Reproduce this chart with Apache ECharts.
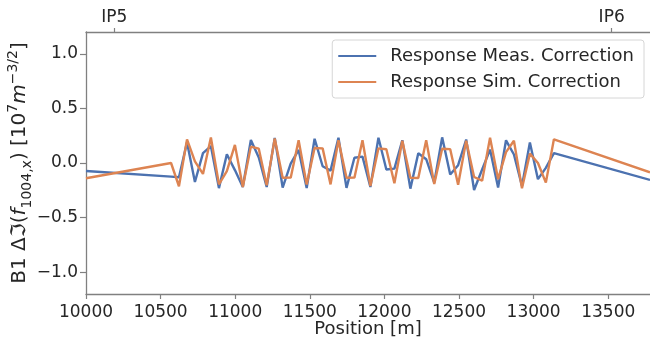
<!DOCTYPE html>
<html>
<head>
<meta charset="utf-8">
<script src="https://cdn.jsdelivr.net/npm/echarts@6/dist/echarts.min.js"></script>
<style>html,body{margin:0;padding:0;background:#fff}#c{width:650px;height:340px}</style>
</head>
<body>
<div id="c"></div>
<script>
const positions = [10000, 10570, 10623, 10677, 10730, 10784, 10837, 10891, 10944, 10998, 11051,
  11105, 11158, 11211, 11265, 11318, 11372, 11425, 11479, 11532, 11586,
  11639, 11692, 11746, 11799, 11853, 11906, 11960, 12013, 12067, 12120,
  12174, 12227, 12280, 12334, 12387, 12441, 12494, 12548, 12601, 12655,
  12708, 12762, 12815, 12868, 12922, 12975, 13029, 13082, 13136, 13780];
const measCorrection = [-0.073, -0.125, -0.13, 0.19, -0.174, 0.09, 0.155, -0.23, 0.08, -0.065, -0.22,
  0.21, 0.05, -0.22, 0.23, -0.225, -0.005, 0.12, -0.23, 0.222, -0.03,
  -0.07, 0.232, -0.228, 0.048, 0.058, -0.22, 0.232, -0.06, -0.052, 0.208,
  -0.235, 0.09, 0.035, -0.18, 0.235, -0.105, -0.02, 0.215, -0.247, -0.06,
  0.123, -0.225, 0.208, 0.078, -0.21, 0.188, -0.148, -0.045, 0.09, -0.155];
const simCorrection = [-0.14, 0.0, -0.213, 0.216, 0.015, -0.1, 0.234, -0.195, -0.075, 0.166, -0.22,
  0.15, 0.131, -0.204, 0.225, -0.135, -0.134, 0.208, -0.197, 0.138, 0.134,
  -0.196, 0.208, -0.135, -0.134, 0.208, -0.21, 0.134, 0.126, -0.185, 0.204,
  -0.135, -0.138, 0.208, -0.193, 0.131, 0.127, -0.2, 0.204, -0.128, -0.162,
  0.231, -0.148, 0.1, 0.204, -0.232, 0.086, 0.0, -0.18, 0.217, -0.085];
const xTicks = [10000, 10500, 11000, 11500, 12000, 12500, 13000, 13500];
const yTicks = [-1.0, -0.5, 0.0, 0.5, 1.0];
const ipPositions = [10189, 13523];
const ipLabels = ['IP5', 'IP6'];
const seriesNames = ['Response Meas. Correction', 'Response Sim. Correction'];

const FONT = 'DejaVu Sans';
const TXT = '#262626';
const SPINE = '#808080';

const chart = echarts.init(document.getElementById('c'), null, {renderer: 'canvas'});
const zip = (xs, ys) => xs.map((x, i) => [x, ys[i]]);

chart.setOption({
  animation: false,
  backgroundColor: '#fff',
  grid: {left: 86, right: 0, top: 32, bottom: 46, containLabel: false, outerBoundsMode: 'none'},
  legend: {
    orient: 'vertical', right: 6, top: 40,
    padding: [6, 10, 6, 6], itemGap: 6,
    itemWidth: 38, itemHeight: 2, icon: 'rect',
    borderColor: '#d6d6d6', borderWidth: 1, borderRadius: 3,
    backgroundColor: 'rgba(255,255,255,0.8)',
    textStyle: {fontFamily: FONT, fontSize: 18, color: TXT, lineHeight: 20, padding: [0, 0, 0, 9]},
    data: seriesNames
  },
  xAxis: [{
    type: 'value', min: 10000, max: 13780, position: 'bottom',
    name: 'Position [m]', nameLocation: 'middle', nameGap: 26, nameMoveOverlap: false,
    nameTextStyle: {fontFamily: FONT, fontSize: 18, color: TXT},
    axisLine: {show: true, onZero: false, lineStyle: {color: SPINE, width: 1.3}},
    axisTick: {show: true, length: 5, lineStyle: {color: SPINE, width: 1.2}, customValues: xTicks},
    axisLabel: {fontFamily: FONT, fontSize: 17, color: TXT, margin: 10, customValues: xTicks, formatter: v => String(v)},
    splitLine: {show: false}
  }, {
    type: 'value', min: 10000, max: 13780, position: 'top',
    axisLine: {show: true, onZero: false, lineStyle: {color: SPINE, width: 1.3}},
    axisTick: {show: true, length: 4, lineStyle: {color: SPINE, width: 1.2}, customValues: ipPositions},
    axisLabel: {fontFamily: FONT, fontSize: 17, color: TXT, margin: 6, customValues: ipPositions,
      formatter: v => ipLabels[ipPositions.indexOf(v)] || ''},
    splitLine: {show: false}
  }],
  yAxis: {
    type: 'value', min: -1.2, max: 1.2,
    name: '{n|B1 Δℑ(}{i|f}{sub|1004,x}{n|) [10}{sup|7}{i|m}{sup|−3/2}{n|]}',
    nameLocation: 'middle', nameRotate: 90, nameGap: 52, nameMoveOverlap: false,
    nameTextStyle: {
      fontFamily: FONT, fontSize: 20, color: TXT,
      rich: {
        n: {fontFamily: FONT, fontSize: 20, color: TXT, lineHeight: 28},
        i: {fontFamily: FONT, fontSize: 20, color: TXT, fontStyle: 'italic', lineHeight: 28},
        sub: {fontFamily: FONT, fontSize: 14, color: TXT, verticalAlign: 'bottom', lineHeight: 28},
        sup: {fontFamily: FONT, fontSize: 14, color: TXT, verticalAlign: 'top', lineHeight: 28}
      }
    },
    axisLine: {show: true, onZero: false, lineStyle: {color: SPINE, width: 1.3}},
    axisTick: {show: true, length: 6, lineStyle: {color: SPINE, width: 1.2}, customValues: yTicks},
    axisLabel: {fontFamily: FONT, fontSize: 17, color: TXT, margin: 8, customValues: yTicks,
      formatter: v => (v < 0 ? '−' : '') + Math.abs(v).toFixed(1)},
    splitLine: {show: false}
  },
  series: [{
    name: seriesNames[0], type: 'line', data: zip(positions, measCorrection),
    showSymbol: false, symbol: 'none', color: '#4C72B0',
    lineStyle: {width: 2.4, color: '#4C72B0'}, clip: true
  }, {
    name: seriesNames[1], type: 'line', data: zip(positions, simCorrection),
    showSymbol: false, symbol: 'none', color: '#DD8452',
    lineStyle: {width: 2.4, color: '#DD8452'}, clip: true
  }]
});
</script>
</body>
</html>
